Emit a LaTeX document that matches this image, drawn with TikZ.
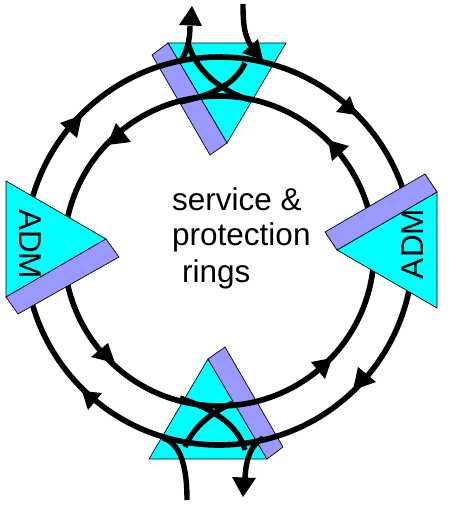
\documentclass[tikz,border=0pt]{standalone}
\usepackage{fontspec}
\setmainfont{Liberation Sans}
\definecolor{admcyan}{RGB}{0,255,255}
\definecolor{admband}{RGB}{153,153,255}
\tikzset{
  admtri/.style={fill=admcyan,draw=black,line width=0.7pt},
  admbar/.style={fill=admband,draw=black,line width=0.7pt},
  ringline/.style={line width=5.6pt},
  addline/.style={line width=5.4pt},
  bigtext/.style={font=\fontsize{31.5}{31.5}\selectfont,inner sep=0pt}
}
\begin{document}
\begin{tikzpicture}[x=1pt,y=-1pt]
\useasboundingbox (0,0) rectangle (450,509);

\coordinate (ringcentre) at (219,251);
\coordinate (topout) at (190,26);
\coordinate (topin) at (243,4);
\coordinate (botin) at (187,500);
\coordinate (botout) at (245,478);

\fill[admtri] (168,43) -- (286,43) -- (227,143) -- cycle;
\fill[admbar] (168,43) -- (152,55) -- (210,155) -- (227,143) -- cycle;
\fill[admtri] (149,459) -- (267,459) -- (208,359) -- cycle;
\fill[admbar] (208,359) -- (225,347) -- (283,447) -- (267,459) -- cycle;

\draw[ringline] (ringcentre) circle (194);
\draw[ringline] (ringcentre) circle (155);

\fill (82,115) -- (60,123) -- (77,138) -- cycle;
\fill (357,115) -- (350,96) -- (336,112) -- cycle;
\fill (82,391) -- (102,393) -- (88,410) -- cycle;
\fill (353,390) -- (358,367) -- (376,382) -- cycle;
\fill (107,145) -- (116,123) -- (131,142) -- cycle;
\fill (328,140) -- (349,146) -- (332,161) -- cycle;
\fill (115,363) -- (108,343) -- (91,357) -- cycle;
\fill (332,358) -- (311,362) -- (325,379) -- cycle;

\draw[addline] (topout) .. controls (190,40) and (187,52) .. (180,62);
\draw[addline] (188,43) .. controls (194,64) and (212,88) .. (250,100);
\draw[addline] (245,63) .. controls (236,82) and (217,94) .. (180,102);
\fill (192,6) -- (179,25) -- (202,26) -- cycle;
\draw[addline] (topin) .. controls (243,28) and (245,36) .. (252,48);
\fill (263,60) -- (258,39) -- (242,53) -- cycle;

\draw[addline] (245,450) .. controls (238,425) and (215,410) .. (180,398);
\draw[addline] (185,447) .. controls (194,426) and (212,412) .. (233,403);
\draw[addline] (botin) .. controls (187,470) and (182,444) .. (163,438);
\draw[addline] (263,438) .. controls (253,443) and (246,456) .. (botout);
\fill (243,497) -- (232,477) -- (256,478) -- cycle;

\fill[admtri] (6,181) -- (6,297) -- (106,239) -- cycle;
\node[bigtext,rotate=-90] (admleft) at (30,244) {ADM};
\fill[admbar] (106,239) -- (119,257) -- (18,314) -- (6,297) -- cycle;
\fill[admtri] (437,192) -- (437,308) -- (337,250) -- cycle;
\node[bigtext,rotate=90] (admright) at (413,244) {ADM};
\fill[admbar] (337,250) -- (325,232) -- (425,174) -- (437,192) -- cycle;

\node[bigtext,anchor=base west] (servicetext) at (172,210) {service \&};
\node[bigtext,anchor=base west] (protecttext) at (172,245) {protection};
\node[bigtext,anchor=base west] (ringstext) at (182,282) {rings};
\end{tikzpicture}
\end{document}
